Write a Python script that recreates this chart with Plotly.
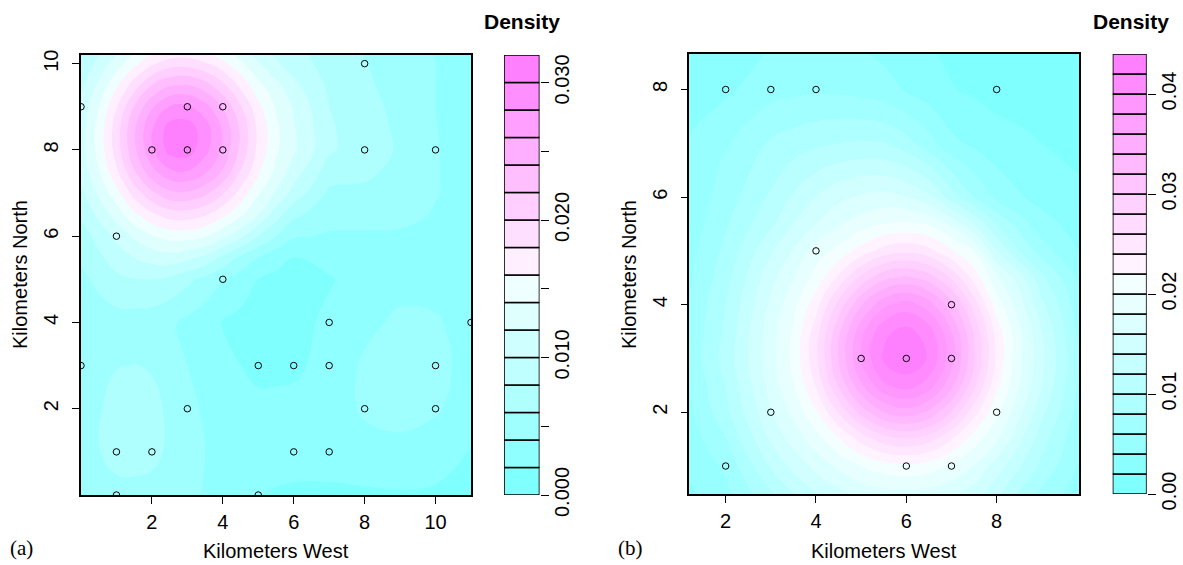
import colorsys
import plotly.graph_objects as go

# ---------------- data ----------------
# Panel (a): sample locations
a_pts_x = [0, 3, 4, 8, 2, 3, 4, 8, 10, 1, 4, 7, 11, 0, 5, 6, 7, 10, 3, 8, 10, 1, 2, 6, 7, 1, 5]
a_pts_y = [9, 9, 9, 10, 8, 8, 8, 8, 8, 6, 5, 4, 4, 3, 3, 3, 3, 3, 2, 2, 2, 1, 1, 1, 1, 0, 0]
# Panel (a): density surface (values x 1e-3), rows = y, cols = x
a_grid_x = [0, 0.5, 1, 1.5, 2, 2.5, 3, 3.5, 4, 4.5, 5, 5.5, 6, 7, 8, 9, 10, 11]
a_grid_y = [0, 1, 2, 3, 4, 5, 5.5, 6, 6.5, 7, 7.5, 8, 8.5, 9, 9.5, 10, 10.5, 11]
a_density_milli = [
    [4.5, 4.9, 5.3, 5.25, 5.2, 4.8, 4.4, 3.85, 3.3, 2.65, 2.0, 1.85, 1.7, 1.7, 1.7, 1.8, 1.8, 1.6],
    [4.8, 5.9, 6.8, 7.0, 6.6, 5.6, 4.5, 4.0, 3.5, 3.05, 2.6, 2.65, 2.7, 2.7, 3.2, 3.4, 2.6, 1.9],
    [4.6, 5.8, 6.8, 7.1, 6.6, 5.6, 4.4, 3.8, 3.2, 2.85, 2.5, 2.55, 2.6, 2.9, 4.3, 4.7, 4.3, 2.8],
    [4.3, 5.2, 5.9, 6.05, 5.8, 4.9, 4.0, 3.25, 2.5, 2.0, 1.5, 1.5, 1.6, 2.7, 4.3, 4.9, 4.6, 3.3],
    [4.5, 4.9, 5.2, 5.1, 4.9, 4.3, 3.6, 2.75, 1.9, 1.5, 1.2, 1.15, 1.2, 2.5, 3.5, 4.4, 4.2, 3.2],
    [5.5, 6.5, 7.5, 7.9, 8.0, 7.5, 6.5, 5.4, 4.2, 3.0, 2.0, 1.6, 1.4, 1.8, 3.0, 3.3, 3.3, 3.0],
    [6.3, 7.6, 9.0, 10.0, 10.8, 11.2, 10.5, 9.5, 7.5, 5.5, 4.0, 2.6, 1.9, 2.8, 3.35, 3.5, 3.45, 3.1],
    [7.1, 8.7, 10.5, 12.3, 13.8, 14.7, 14.8, 14.2, 12.5, 10.5, 8.0, 6.0, 4.2, 3.8, 3.7, 3.7, 3.6, 3.2],
    [8.3, 10.5, 12.9, 15.5, 17.6, 18.9, 19.0, 18.2, 16.5, 14.4, 12.0, 9.0, 6.5, 4.7, 4.7, 4.55, 3.85, 3.25],
    [9.5, 12.3, 15.3, 18.8, 21.6, 23.5, 23.7, 22.5, 20.2, 17.3, 14.2, 11.7, 9.3, 5.6, 5.7, 5.4, 4.1, 3.3],
    [10.6, 13.8, 17.6, 21.8, 25.4, 27.6, 27.9, 26.4, 23.8, 19.9, 16.3, 13.5, 11.0, 7.0, 6.3, 5.6, 4.1, 3.3],
    [11.2, 14.7, 18.9, 23.5, 27.6, 30.8, 31.0, 28.7, 25.5, 21.5, 17.4, 14.3, 12.3, 8.3, 6.8, 5.8, 4.1, 3.3],
    [11.2, 14.7, 19.0, 23.7, 27.8, 30.9, 31.0, 29.0, 25.7, 21.7, 17.5, 14.4, 12.2, 8.3, 6.7, 5.7, 4.05, 3.15],
    [10.7, 13.9, 17.8, 22.1, 25.7, 28.1, 28.4, 26.8, 23.8, 20.2, 16.5, 13.8, 11.8, 8.0, 6.5, 5.6, 4.0, 3.0],
    [9.6, 12.4, 15.6, 19.0, 22.0, 23.8, 24.1, 22.8, 20.5, 17.5, 14.6, 12.5, 10.5, 7.6, 6.3, 5.3, 4.0, 2.8],
    [8.4, 10.6, 13.0, 15.5, 17.7, 19.0, 19.2, 18.3, 16.6, 14.5, 12.2, 10.3, 9.0, 7.2, 6.1, 5.0, 4.0, 2.6],
    [7.0, 8.6, 10.4, 12.2, 13.7, 14.6, 14.7, 14.1, 12.9, 11.5, 9.8, 9.0, 8.2, 6.7, 5.7, 4.7, 3.75, 2.3],
    [6.0, 6.9, 8.1, 9.4, 10.3, 10.9, 11.0, 10.6, 9.8, 8.8, 7.7, 7.6, 7.3, 6.2, 5.3, 4.4, 3.5, 2.0],
]
a_xrange = [0, 11]
a_yrange = [0, 10.2]
a_xticks = [2, 4, 6, 8, 10]
a_yticks = [2, 4, 6, 8, 10]
a_key_max = 0.032
a_key_ticks = [0.0, 0.005, 0.010, 0.015, 0.020, 0.025, 0.030]
a_key_labels = ["0.000", "", "0.010", "", "0.020", "", "0.030"]

# Panel (b): sample locations
b_pts_x = [2, 3, 4, 8, 4, 7, 5, 6, 7, 3, 8, 2, 6, 7]
b_pts_y = [8, 8, 8, 8, 5, 4, 3, 3, 3, 2, 2, 1, 1, 1]
# Panel (b): density surface (values x 1e-3)
b_grid_x = [1, 2, 3, 3.5, 4, 4.5, 5, 5.5, 6, 6.5, 7, 7.5, 8, 8.5, 9, 10]
b_grid_y = [0, 0.5, 1, 1.5, 2, 2.5, 3, 3.5, 4, 4.5, 5, 5.5, 6, 7, 8, 9]
b_density_milli = [
    [2.8, 4.5, 7.0, 8.9, 10.9, 12.4, 13.5, 14.1, 14.3, 14.0, 13.3, 12.0, 9.9, 7.8, 6.0, 3.5],
    [3.3, 5.45, 9.7, 12.0, 14.0, 15.5, 16.7, 17.4, 17.6, 17.3, 16.5, 15.1, 12.6, 9.8, 7.5, 4.25],
    [3.8, 6.4, 12.2, 14.6, 16.7, 18.4, 20.0, 21.1, 21.5, 21.0, 19.7, 17.9, 15.0, 12.2, 9.5, 5.0],
    [4.2, 7.9, 14.3, 16.8, 19.1, 21.8, 24.7, 27.0, 27.8, 26.8, 24.1, 21.0, 18.3, 14.5, 10.8, 5.5],
    [4.6, 9.4, 15.8, 18.5, 21.7, 26.2, 30.8, 34.0, 35.1, 33.6, 29.8, 24.8, 20.5, 16.5, 12.5, 6.0],
    [5.05, 10.1, 16.8, 19.9, 24.2, 30.2, 35.7, 39.7, 40.9, 39.1, 34.6, 28.5, 22.5, 18.0, 14.0, 6.25],
    [5.5, 10.8, 17.3, 20.5, 25.5, 32.1, 38.2, 42.35, 43.6, 41.8, 36.9, 30.3, 23.6, 18.5, 14.5, 6.5],
    [5.35, 10.4, 17.1, 20.3, 25.1, 31.5, 37.4, 41.5, 42.7, 41.0, 36.1, 29.7, 23.2, 18.4, 14.0, 6.0],
    [5.2, 10.0, 16.4, 19.4, 23.2, 28.7, 33.8, 37.5, 39.0, 37.0, 32.8, 27.1, 21.0, 17.0, 12.5, 5.5],
    [4.85, 9.25, 15.3, 17.9, 20.7, 24.5, 28.5, 31.5, 32.4, 31.1, 27.7, 23.3, 18.5, 15.0, 10.5, 4.4],
    [4.5, 8.5, 13.7, 16.1, 19.0, 20.6, 22.9, 24.8, 25.5, 24.6, 22.3, 19.9, 14.0, 10.0, 7.0, 3.3],
    [4.15, 7.75, 11.6, 14.0, 16.0, 17.7, 19.0, 20.0, 20.3, 19.8, 17.5, 14.0, 10.0, 7.0, 4.8, 2.75],
    [3.8, 7.0, 10.3, 12.3, 14.0, 15.5, 16.3, 16.7, 16.0, 14.5, 11.0, 8.0, 5.5, 4.2, 3.3, 2.2],
    [3.8, 5.8, 8.3, 9.0, 9.6, 10.0, 10.2, 10.0, 8.8, 6.8, 4.5, 3.6, 2.8, 2.4, 2.0, 1.5],
    [2.6, 3.6, 5.2, 5.5, 5.7, 5.6, 5.3, 4.8, 3.8, 2.9, 2.1, 1.7, 1.3, 1.15, 1.0, 0.8],
    [2.2, 2.9, 3.6, 3.8, 3.9, 3.8, 3.5, 3.0, 2.4, 1.9, 1.5, 1.2, 1.0, 0.9, 0.8, 0.6],
]
b_xrange = [1.195, 9.83]
b_yrange = [0.48, 8.66]
b_xticks = [2, 4, 6, 8]
b_yticks = [2, 4, 6, 8]
b_key_max = 0.044
b_key_ticks = [0.00, 0.01, 0.02, 0.03, 0.04]
b_key_labels = ["0.00", "0.01", "0.02", "0.03", "0.04"]

level_step = 0.002

# ---------------- styling helpers ----------------
W, H = 1183, 565
FONT = "Liberation Sans, Arial, sans-serif"
SERIF = "Liberation Serif, Times New Roman, serif"


def fx(px):
    return px / W


def fy(py):
    return 1 - py / H


def hsv_hex(h, s, v):
    r, g, b = colorsys.hsv_to_rgb(h, s, v)
    return "#%02X%02X%02X" % (int(255 * r + 0.5), int(255 * g + 0.5), int(255 * b + 0.5))


def cm_colors(n):
    # equivalent of R's cm.colors(n)
    k = n // 2
    even = 1 if n % 2 == 0 else 0
    l1 = k + 1 - even
    l2 = n - k + even
    s_end = 0.5 / k if even else 0.0
    cols = []
    for i in range(l1):
        s = 0.5 + (s_end - 0.5) * i / (l1 - 1) if l1 > 1 else 0.5
        cols.append(hsv_hex(6 / 12, s, 1))
    for i in range(1, l2):
        s = 0.5 * i / (l2 - 1)
        cols.append(hsv_hex(10 / 12, s, 1))
    return cols


fig = go.Figure()


def add_panel(gx, gy, zmilli, px, py, kmax, xa, ya, xk, yk):
    nb = int(round(kmax / level_step))
    cols = cm_colors(nb)
    cscale = [[i / (nb - 1), c] for i, c in enumerate(cols)]
    z = [[v * 1e-3 for v in row] for row in zmilli]
    fig.add_trace(go.Contour(
        x=gx, y=gy, z=z, xaxis=xa, yaxis=ya,
        colorscale=cscale, showscale=False, autocontour=False,
        contours=dict(start=level_step, end=kmax - level_step, size=level_step,
                      coloring="fill", showlines=False),
        line=dict(width=0, smoothing=1.3),
        hoverinfo="skip",
    ))
    fig.add_trace(go.Scatter(
        x=px, y=py, mode="markers", xaxis=xa, yaxis=ya,
        marker=dict(symbol="circle-open", size=6.5, color="black", line=dict(width=1)),
        hoverinfo="skip", showlegend=False,
    ))
    # colour key (as in filled.contour)
    levels = [i * level_step for i in range(nb)]
    fig.add_trace(go.Bar(
        x=[0.5] * nb, y=[level_step] * nb, base=levels, width=1.0,
        xaxis=xk, yaxis=yk,
        marker=dict(color=cols, line=dict(color="black", width=1.6)),
        hoverinfo="skip", showlegend=False,
    ))


add_panel(a_grid_x, a_grid_y, a_density_milli, a_pts_x, a_pts_y, a_key_max, "x", "y", "x2", "y2")
add_panel(b_grid_x, b_grid_y, b_density_milli, b_pts_x, b_pts_y, b_key_max, "x3", "y3", "x4", "y4")

tickfont = dict(family=FONT, size=20, color="black")
main_axis = dict(showline=True, mirror=True, linecolor="black", linewidth=1.5,
                 ticks="outside", ticklen=7, tickwidth=1.2, tickcolor="black",
                 showgrid=False, zeroline=False, tickfont=tickfont, automargin=False)
key_axis = dict(side="right", tickangle=-90, ticks="outside", ticklen=8, tickwidth=1.2,
                tickcolor="black", showline=False, showgrid=False, zeroline=False,
                tickfont=tickfont, ticklabelstandoff=-4, automargin=False)

a_dom_x = [fx(81), fx(471)]
a_dom_y = [fy(495), fy(55)]
b_dom_x = [fx(689.3), fx(1079.3)]
b_dom_y = [fy(494), fy(54)]

fig.update_layout(
    width=W, height=H, margin=dict(l=0, r=0, t=0, b=0, pad=0, autoexpand=False),
    paper_bgcolor="white", plot_bgcolor="white", showlegend=False,
    barmode="overlay",
    xaxis=dict(domain=a_dom_x, range=a_xrange, anchor="y", tickvals=a_xticks,
               ticklabelstandoff=1, **main_axis),
    yaxis=dict(domain=a_dom_y, range=a_yrange, anchor="x", tickvals=a_yticks,
               tickangle=-90, ticklabelstandoff=6, **main_axis),
    xaxis2=dict(domain=[fx(504), fx(539.5)], range=[0, 1], anchor="y2", visible=False,
                automargin=False),
    yaxis2=dict(domain=a_dom_y, range=[0, a_key_max], anchor="x2",
                tickvals=a_key_ticks, ticktext=a_key_labels, **key_axis),
    xaxis3=dict(domain=b_dom_x, range=b_xrange, anchor="y3", tickvals=b_xticks,
                ticklabelstandoff=1, **main_axis),
    yaxis3=dict(domain=b_dom_y, range=b_yrange, anchor="x3", tickvals=b_yticks,
                tickangle=-90, ticklabelstandoff=6, **main_axis),
    xaxis4=dict(domain=[fx(1112.7), fx(1146.7)], range=[0, 1], anchor="y4", visible=False,
                automargin=False),
    yaxis4=dict(domain=b_dom_y, range=[0, b_key_max], anchor="x4",
                tickvals=b_key_ticks, ticktext=b_key_labels, **key_axis),
)

ann = []
for cx in (276, 884):
    ann.append(dict(text="Kilometers West", x=fx(cx), y=fy(551), xref="paper", yref="paper",
                    showarrow=False, font=dict(family=FONT, size=20, color="black"),
                    xanchor="center", yanchor="middle"))
ann.append(dict(text="(a)", x=fx(21), y=fy(548), xref="paper", yref="paper", showarrow=False,
                font=dict(family=SERIF, size=21, color="black"), xanchor="center", yanchor="middle"))
ann.append(dict(text="(b)", x=fx(630), y=fy(548), xref="paper", yref="paper", showarrow=False,
                font=dict(family=SERIF, size=21, color="black"), xanchor="center", yanchor="middle"))
for cx in (20, 629):
    ann.append(dict(text="Kilometers North", x=fx(cx), y=fy(275), xref="paper", yref="paper",
                    showarrow=False, textangle=-90, font=dict(family=FONT, size=20, color="black"),
                    xanchor="center", yanchor="middle"))
for cx in (522, 1131):
    ann.append(dict(text="<b>Density</b>", x=fx(cx), y=fy(21), xref="paper", yref="paper",
                    showarrow=False, font=dict(family=FONT, size=21, color="black"),
                    xanchor="center", yanchor="middle"))
fig.update_layout(annotations=ann)

fig.write_html("out.html")
